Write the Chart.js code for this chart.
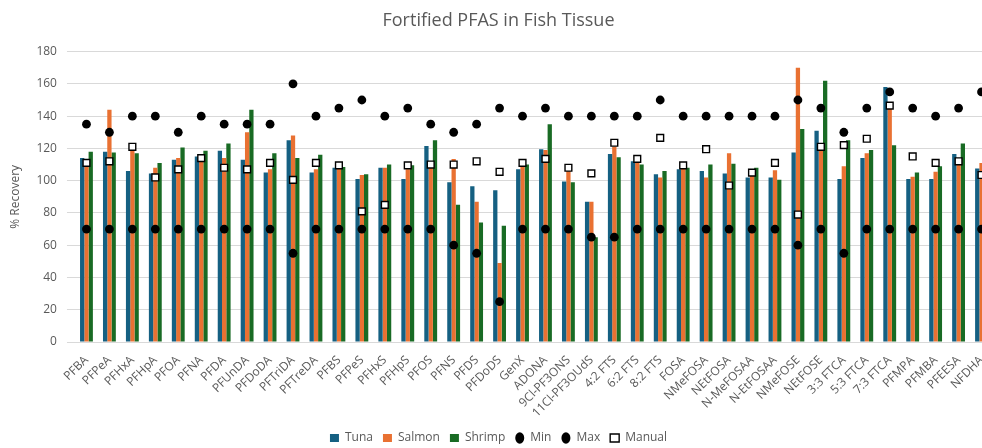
<!DOCTYPE html>
<html lang="en">
<head>
    <meta charset="UTF-8">
    <title>Fortified PFAS in Fish Tissue</title>
    <style>
        html, body {
            margin: 0;
            padding: 0;
            background: #ffffff;
            overflow: hidden;
        }
        /* the reference is cut off on the right, so the chart is a little wider than the window */
        #wrap {
            position: relative;
            width: 1020px;
            height: 448px;
        }
    </style>
</head>
<body>

<div id="wrap">
    <canvas id="myChart"></canvas>
</div>

<script src="https://cdn.jsdelivr.net/npm/chart.js@4.4.1/dist/chart.umd.min.js"></script>
<script>
    var categories = ['PFBA', 'PFPeA', 'PFHxA', 'PFHpA', 'PFOA', 'PFNA', 'PFDA', 'PFUnDA', 'PFDoDA', 'PFTriDA',
        'PFTreDA', 'PFBS', 'PFPeS', 'PFHxS', 'PFHpS', 'PFOS', 'PFNS', 'PFDS', 'PFDoDS', 'GenX',
        'ADONA', '9Cl-PF3ONS', '11Cl-PF3OUdS', '4:2 FTS', '6:2 FTS', '8:2 FTS', 'FOSA', 'NMeFOSA', 'NEtFOSA', 'N-MeFOSAA',
        'N-EtFOSAA', 'NMeFOSE', 'NEtFOSE', '3:3 FTCA', '5:3 FTCA', '7:3 FTCA', 'PFMPA', 'PFMBA', 'PFEESA', 'NFDHA'];

    var tuna = [114, 118, 106, 104.5, 113, 115, 118.5, 113, 105, 125,
        105, 108, 101, 108, 101, 121.5, 99, 96.5, 94, 107,
        119.5, 99.5, 87, 116.5, 112, 104, 107, 106, 104.5, 102,
        102, 117.5, 131, 101, 114, 158, 101, 101, 116.5, 107.5];

    var salmon = [111, 144, 120, 108, 114, 116, 114, 130, 107, 128,
        107, 108.5, 103.5, 108, 107, 111, 113.5, 87, 49, 110,
        119, 106, 87, 121, 112, 102, 109.5, 102, 117, 104.5,
        106.5, 170, 121, 109, 117, 147, 102.5, 105.5, 114, 111];

    var shrimp = [118, 117.5, 117, 111, 120.5, 118.5, 123, 144, 117, 114,
        116, 108.5, 104, 110, 109.5, 125, 85, 74, 72, 110,
        135, 99, 65, 114.5, 110, 106, 108, 110, 110.5, 108,
        100.5, 132, 162, 125, 119, 122, 105, 109, 123, 108];

    var minLimit = [70, 70, 70, 70, 70, 70, 70, 70, 70, 55,
        70, 70, 70, 70, 70, 70, 60, 55, 25, 70,
        70, 70, 65, 65, 70, 70, 70, 70, 70, 70,
        70, 60, 70, 55, 70, 70, 70, 70, 70, 70];

    var maxLimit = [135, 130, 140, 140, 130, 140, 135, 135, 135, 160,
        140, 145, 150, 140, 145, 135, 130, 135, 145, 140,
        145, 140, 140, 140, 140, 150, 140, 140, 140, 140,
        140, 150, 145, 130, 145, 155, 145, 140, 145, 155];

    var manual = [111, 112, 121, 102, 107, 114, 108, 107, 111, 100.5,
        111, 109.5, 81, 85, 109.5, 110, 110, 112, 105.5, 111,
        113.5, 108, 104.5, 123.5, 113.5, 126.5, 109.5, 119.5, 97, 105,
        111, 79, 121, 122, 126, 146.5, 115, 111, 112, 103.5];

    var yTicks = [0, 20, 40, 60, 80, 100, 120, 140, 160, 180];

    var grey = '#595959';
    var font = '"Open Sans", "Noto Sans", Arial, sans-serif';

    function barSet(label, data, color) {
        return {
            type: 'bar',
            label: label,
            data: data,
            backgroundColor: color,
            borderWidth: 0,
            pointStyle: 'rect',
            order: 2
        };
    }

    function markerSet(label, data, style, fill) {
        return {
            type: 'line',
            label: label,
            data: data,
            showLine: false,
            pointStyle: style,
            pointRadius: style === 'rect' ? 4.8 : 4.4,
            pointHoverRadius: style === 'rect' ? 4.8 : 4.4,
            pointBackgroundColor: fill,
            pointBorderColor: '#000000',
            pointBorderWidth: style === 'rect' ? 1.4 : 0,
            backgroundColor: fill,
            borderColor: '#000000',
            borderWidth: style === 'rect' ? 1.4 : 0,
            order: 1
        };
    }

    Chart.defaults.font.family = font;
    Chart.defaults.color = grey;

    var ctx = document.getElementById('myChart').getContext('2d');
    var myChart = new Chart(ctx, {
        data: {
            labels: categories,
            datasets: [
                barSet('Tuna', tuna, '#156082'),
                barSet('Salmon', salmon, '#E97132'),
                barSet('Shrimp', shrimp, '#196B24'),
                markerSet('Min', minLimit, 'circle', '#000000'),
                markerSet('Max', maxLimit, 'circle', '#000000'),
                markerSet('Manual', manual, 'rect', '#ffffff')
            ]
        },
        options: {
            responsive: true,
            maintainAspectRatio: false,
            animation: false,
            datasets: {
                bar: {
                    categoryPercentage: 0.56,
                    barPercentage: 1.0
                }
            },
            layout: {
                padding: { left: 4, right: 27, top: 6, bottom: -6 }
            },
            plugins: {
                title: {
                    display: true,
                    text: 'Fortified PFAS in Fish Tissue',
                    color: grey,
                    font: { size: 18, weight: 'normal' },
                    padding: { top: 4, bottom: 20 }
                },
                legend: {
                    position: 'bottom',
                    labels: {
                        usePointStyle: true,
                        pointStyleWidth: 9,
                        boxHeight: 8,
                        color: grey,
                        font: { size: 12 },
                        padding: 10,
                        sort: function(a, b) { return a.datasetIndex - b.datasetIndex; }
                    }
                },
                tooltip: { enabled: false }
            },
            scales: {
                x: {
                    grid: { display: false },
                    border: { color: '#d9d9d9' },
                    ticks: {
                        autoSkip: false,
                        minRotation: 45,
                        maxRotation: 45,
                        color: grey,
                        font: { size: 12 }
                    },
                    afterFit: function(axis) {
                        axis.height = 80;
                    }
                },
                y: {
                    min: 0,
                    max: 180,
                    afterBuildTicks: function(axis) {
                        axis.ticks = yTicks.map(function(v) { return { value: v }; });
                    },
                    grid: { color: '#d9d9d9' },
                    border: { display: false },
                    ticks: {
                        color: grey,
                        font: { size: 12 },
                        padding: 10
                    },
                    title: {
                        display: true,
                        text: '% Recovery',
                        color: grey,
                        font: { size: 12 }
                    }
                }
            }
        }
    });
</script>

</body>
</html>
